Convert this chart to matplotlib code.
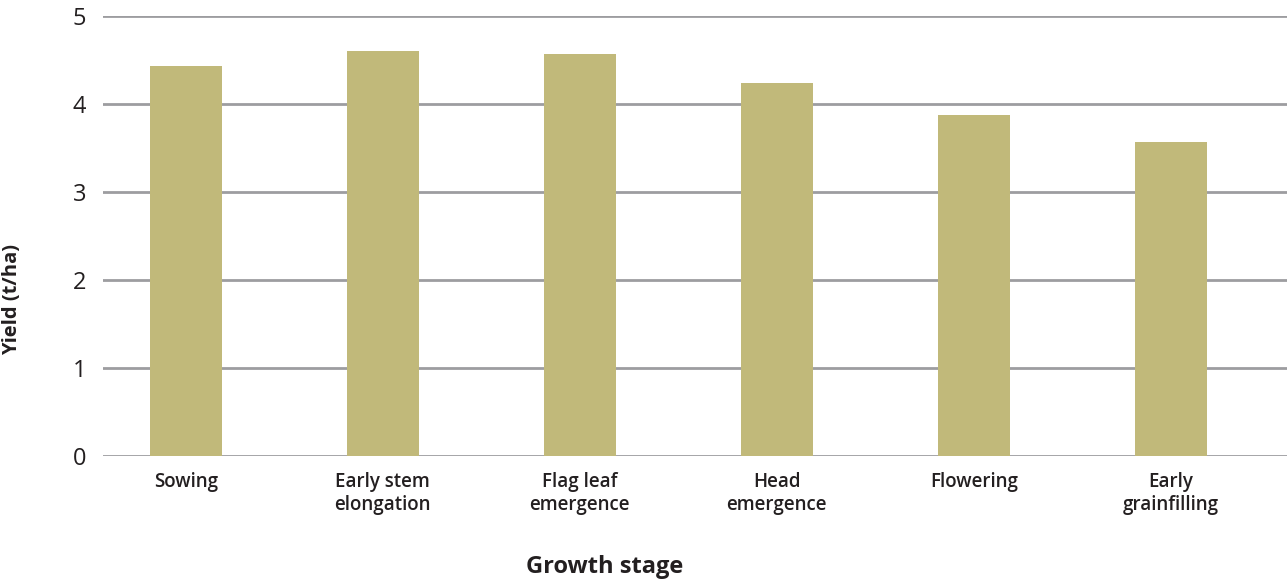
import matplotlib.pyplot as plt
import numpy as np

plt.rcParams["font.family"] = ["Open Sans", "DejaVu Sans"]

STAGES = [
    "Sowing",
    "Early stem\nelongation",
    "Flag leaf\nemergence",
    "Head\nemergence",
    "Flowering",
    "Early\ngrainfilling",
]
YIELD = [4.43, 4.60, 4.57, 4.24, 3.875, 3.57]
Y_TICKS = [0, 1, 2, 3, 4, 5]

BAR_COLOR = "#c1b97a"
GRID_COLOR = "#9d9da0"
TEXT_COLOR = "#231f20"

fig = plt.figure(figsize=(12.87, 5.81), dpi=100)
ax = fig.add_axes([0.080, 0.2151, 0.920, 0.7574])

x = np.arange(len(STAGES))
ax.bar(x, YIELD, width=0.365, color=BAR_COLOR, edgecolor="none", zorder=3)

ax.set_ylim(0, 5)
ax.set_xlim(-0.42, len(STAGES) - 0.41)
ax.set_yticks(Y_TICKS)
ax.set_yticklabels([str(t) for t in Y_TICKS], fontsize=17, color=TEXT_COLOR)
ax.set_xticks(x)
ax.set_xticklabels(STAGES, fontsize=13.5, fontweight="semibold", color=TEXT_COLOR,
                   linespacing=1.22)
ax.tick_params(axis="y", length=0, pad=12)
ax.tick_params(axis="x", length=0, pad=11.5)

ax.yaxis.grid(True, color=GRID_COLOR, linewidth=2, zorder=0)
ax.set_axisbelow(True)
for s in ax.spines.values():
    s.set_visible(False)

ax.set_ylabel("Yield (t/ha)", fontsize=14.5, fontweight="bold", color=TEXT_COLOR)
ax.yaxis.set_label_coords(-0.068, 0.355)
ax.set_xlabel("Growth stage", fontsize=17, fontweight="bold", color=TEXT_COLOR)
ax.xaxis.set_label_coords(0.424, -0.225)

fig.savefig("out.png", dpi=100)
